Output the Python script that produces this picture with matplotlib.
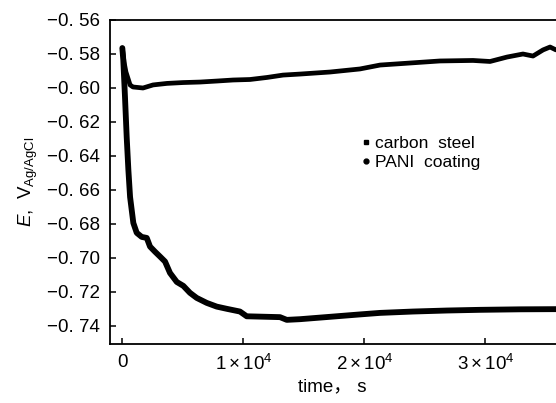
import matplotlib
matplotlib.use("Agg")
import matplotlib.pyplot as plt
from matplotlib.lines import Line2D

plt.rcParams['font.family'] = ['Liberation Sans', 'Noto Sans CJK SC', 'DejaVu Sans']
plt.rcParams['mathtext.fontset'] = 'custom'
plt.rcParams['mathtext.rm'] = 'Liberation Sans'
plt.rcParams['mathtext.it'] = 'Liberation Sans:italic'

# PANI coating (upper curve)
pani_t = [0, 140, 300, 640, 880, 1710, 2540, 3690, 5020, 6420, 7830, 9150, 10550,
          11960, 13280, 14690, 17170, 19640, 21300, 23780, 26250, 28980, 30390,
          31790, 33110, 33940, 34770, 35350, 35840]
pani_E = [-0.5765, -0.5847, -0.5906, -0.5982, -0.5994, -0.6000, -0.5982, -0.5973,
          -0.5968, -0.5965, -0.5959, -0.5953, -0.5950, -0.5938, -0.5924, -0.5918,
          -0.5906, -0.5888, -0.5865, -0.5853, -0.5841, -0.5838, -0.5844, -0.5818,
          -0.5800, -0.5812, -0.5776, -0.5759, -0.5776]

# carbon steel (lower curve)
cs_t = [0, 80, 220, 360, 500, 640, 910, 1190, 1600, 2020, 2290, 2700, 3120, 3530,
        3940, 4500, 5040, 5590, 6150, 6970, 7800, 8630, 9720, 10280, 11380, 13030,
        13590, 14690, 17170, 19640, 21300, 24020, 26830, 29560, 32870, 35840]
cs_E = [-0.5765, -0.5835, -0.6053, -0.6288, -0.6482, -0.6641, -0.6794, -0.6852,
        -0.6876, -0.6882, -0.6933, -0.6963, -0.6992, -0.7021, -0.7088, -0.7141,
        -0.7164, -0.7205, -0.7235, -0.7264, -0.7286, -0.7299, -0.7315, -0.7343,
        -0.7345, -0.7348, -0.7364, -0.7360, -0.7346, -0.7332, -0.7323, -0.7315,
        -0.7309, -0.7305, -0.7302, -0.7301]

yticks = [-0.56, -0.58, -0.60, -0.62, -0.64, -0.66, -0.68, -0.70, -0.72, -0.74]
ytick_labels = ['\u22120. 56', '\u22120. 58', '\u22120. 60', '\u22120. 62', '\u22120. 64',
                '\u22120. 66', '\u22120. 68', '\u22120. 70', '\u22120. 72', '\u22120. 74']
xticks = [0, 10000, 20000, 30000]
xtick_labels = ['0', '$\\mathregular{1 \\times 10^{4}}$', '$\\mathregular{2 \\times 10^{4}}$',
                '$\\mathregular{3 \\times 10^{4}}$']
legend_labels = ['carbon  steel', 'PANI  coating']

fig = plt.figure(figsize=(5.56, 4.03), dpi=100)
ax = fig.add_axes([109.5 / 556, 59 / 403, (556 - 109.5) / 556, (344 - 20) / 403])

ax.plot(cs_t, cs_E, color='black', lw=4.2, solid_joinstyle='round', solid_capstyle='round')
ax.plot(pani_t, pani_E, color='black', lw=3.4, solid_joinstyle='round', solid_capstyle='round')

ax.set_xlim(-1060, 35840)
ax.set_ylim(-0.7506, -0.56)
ax.set_yticks(yticks)
ax.set_yticklabels(ytick_labels)
ax.set_xticks(xticks)
ax.set_xticklabels(xtick_labels)
ax.tick_params(direction='in', length=4, width=1.1, labelsize=13.5, pad=7)
ax.tick_params(axis='x', pad=7)
for s in ['left', 'bottom', 'top']:
    ax.spines[s].set_linewidth(1.3)
ax.spines['right'].set_visible(False)

ax.set_xlabel('time\uff0c s', fontsize=13.5, labelpad=3)
ax.set_ylabel('$\\mathit{E}$,  V$_{\\mathregular{Ag/AgCl}}$', fontsize=13.5, labelpad=5)

handles = [Line2D([], [], color='black', marker='s', ls='none', markersize=3.5),
           Line2D([], [], color='black', marker='o', ls='none', markersize=3.5)]
ax.legend(handles, legend_labels, loc='upper left', bbox_to_anchor=(362 / 556, 1 - 136 / 403),
          bbox_transform=fig.transFigure, frameon=False, fontsize=12.5, handlelength=0.5,
          handletextpad=0.25, labelspacing=0.22, borderpad=0, borderaxespad=0)

fig.savefig('out.png', dpi=100)
